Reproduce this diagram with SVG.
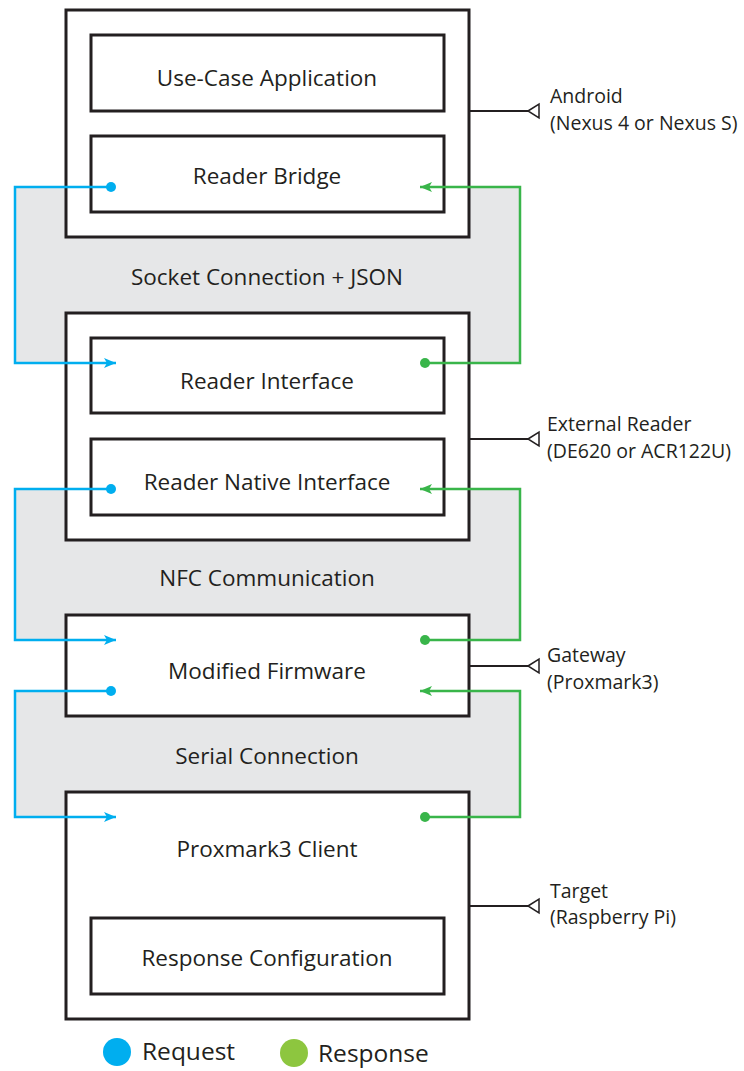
<svg xmlns="http://www.w3.org/2000/svg" width="744" height="1071" viewBox="0 0 744 1071">
  <style>
    .band { fill: #e6e7e8; stroke: none; }
    .outer { fill: #ffffff; stroke: #231f20; stroke-width: 3; }
    .inner { fill: #ffffff; stroke: #231f20; stroke-width: 3; }
    .lbl { font-family: "Open Sans", "Noto Sans", sans-serif; font-size: 22.5px; fill: #231f20; text-anchor: middle; }
    .side { font-family: "Open Sans", "Noto Sans", sans-serif; font-size: 19.5px; fill: #231f20; }
    .leg { font-family: "Open Sans", "Noto Sans", sans-serif; font-size: 24.5px; fill: #231f20; }
    .req { fill: none; stroke: #00aeef; stroke-width: 2.5; marker-start: url(#dotReq); marker-end: url(#arrReq); }
    .res { fill: none; stroke: #39b54a; stroke-width: 2.5; marker-start: url(#dotRes); marker-end: url(#arrRes); }
    .tag { fill: none; stroke: #231f20; stroke-width: 2; }
    .tagHead { fill: #ffffff; stroke: #231f20; stroke-width: 1.5; }
  </style>
  <defs>
    <marker id="arrReq" markerUnits="userSpaceOnUse" markerWidth="14" markerHeight="12" refX="12" refY="6" orient="auto">
      <path d="M0,1 L12,6 L0,11 L3,6 Z" fill="#00aeef"/>
    </marker>
    <marker id="arrRes" markerUnits="userSpaceOnUse" markerWidth="14" markerHeight="12" refX="12" refY="6" orient="auto">
      <path d="M0,1 L12,6 L0,11 L3,6 Z" fill="#39b54a"/>
    </marker>
    <marker id="dotReq" markerUnits="userSpaceOnUse" markerWidth="12" markerHeight="12" refX="6" refY="6">
      <circle cx="6" cy="6" r="5" fill="#00aeef"/>
    </marker>
    <marker id="dotRes" markerUnits="userSpaceOnUse" markerWidth="12" markerHeight="12" refX="6" refY="6">
      <circle cx="6" cy="6" r="5" fill="#39b54a"/>
    </marker>
  </defs>

  <!-- shaded channels between the layers -->
  <g id="channels">
    <rect class="band" x="15" y="187" width="505" height="176"/>
    <rect class="band" x="15" y="489" width="505" height="151"/>
    <rect class="band" x="15" y="691" width="505" height="126"/>
    <text class="lbl" x="267" y="285">Socket Connection + JSON</text>
    <text class="lbl" x="267" y="586">NFC Communication</text>
    <text class="lbl" x="267" y="764">Serial Connection</text>
  </g>

  <!-- Android device -->
  <g id="android">
    <rect class="outer" x="66" y="10" width="403" height="227"/>
    <g id="use-case-application">
      <rect class="inner" x="91" y="35" width="353" height="76"/>
      <text class="lbl" x="267" y="86">Use-Case Application</text>
    </g>
    <g id="reader-bridge">
      <rect class="inner" x="91" y="136" width="353" height="76"/>
      <text class="lbl" x="267" y="184">Reader Bridge</text>
    </g>
    <path class="tag" d="M469,111 H529"/>
    <path class="tagHead" d="M528,111 L539,104 L539,118 Z"/>
    <text class="side" x="550" y="103">Android</text>
    <text class="side" x="550" y="130">(Nexus 4 or Nexus S)</text>
  </g>

  <!-- External reader -->
  <g id="external-reader">
    <rect class="outer" x="66" y="313" width="403" height="227"/>
    <g id="reader-interface">
      <rect class="inner" x="91" y="338" width="353" height="75"/>
      <text class="lbl" x="267" y="389">Reader Interface</text>
    </g>
    <g id="reader-native-interface">
      <rect class="inner" x="91" y="439" width="353" height="76"/>
      <text class="lbl" x="267" y="490">Reader Native Interface</text>
    </g>
    <path class="tag" d="M469,439 H529"/>
    <path class="tagHead" d="M528,439 L539,432 L539,446 Z"/>
    <text class="side" x="547" y="431">External Reader</text>
    <text class="side" x="547" y="458">(DE620 or ACR122U)</text>
  </g>

  <!-- Gateway -->
  <g id="gateway">
    <rect class="outer" x="66" y="615" width="403" height="101"/>
    <text class="lbl" x="267" y="679">Modified Firmware</text>
    <path class="tag" d="M469,666 H529"/>
    <path class="tagHead" d="M528,666 L539,659 L539,673 Z"/>
    <text class="side" x="547" y="662">Gateway</text>
    <text class="side" x="547" y="689">(Proxmark3)</text>
  </g>

  <!-- Target -->
  <g id="target">
    <rect class="outer" x="66" y="792" width="403" height="227"/>
    <text class="lbl" x="267" y="857">Proxmark3 Client</text>
    <g id="response-configuration">
      <rect class="inner" x="91" y="918" width="353" height="76"/>
      <text class="lbl" x="267" y="966">Response Configuration</text>
    </g>
    <path class="tag" d="M469,906 H529"/>
    <path class="tagHead" d="M528,906 L539,899 L539,913 Z"/>
    <text class="side" x="550" y="898">Target</text>
    <text class="side" x="550" y="924">(Raspberry Pi)</text>
  </g>

  <!-- request / response flows -->
  <g id="connectors">
    <path class="req" d="M111,187 H15 V363 H116"/>
    <path class="res" d="M425,363 H520 V187 H420"/>
    <path class="req" d="M111,489 H15 V640 H116"/>
    <path class="res" d="M425,640 H520 V489 H420"/>
    <path class="req" d="M111,691 H15 V817 H116"/>
    <path class="res" d="M425,817 H520 V691 H420"/>
  </g>

  <!-- legend -->
  <g id="legend">
    <circle cx="117" cy="1052" r="14" fill="#00aeef"/>
    <text class="leg" x="142" y="1060">Request</text>
    <circle cx="294" cy="1053" r="14" fill="#8dc63f"/>
    <text class="leg" x="318" y="1062">Response</text>
  </g>
</svg>
